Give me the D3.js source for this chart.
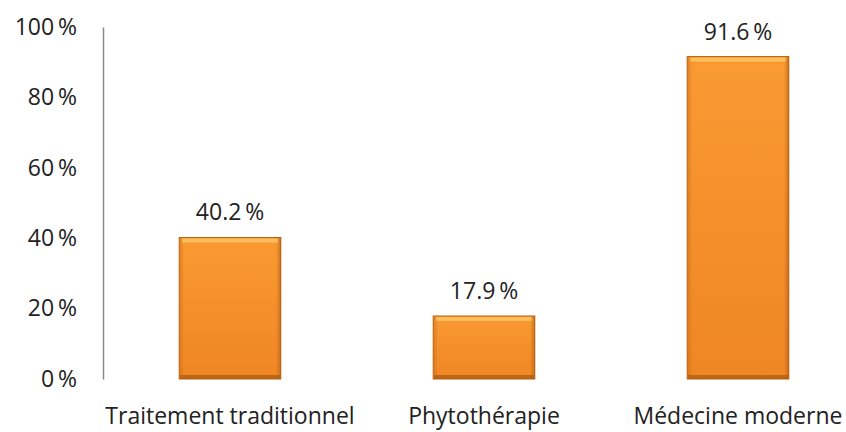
<!DOCTYPE html>
<html><head><meta charset="utf-8">
<script src="https://cdn.jsdelivr.net/npm/d3@7"></script>
<style>body{margin:0;background:#fff}svg{display:block}text{font-family:"Open Sans",sans-serif;fill:#222}</style>
</head><body><svg id="c" width="846" height="432"></svg>
<script>
const categories = ["Traitement traditionnel", "Phytothérapie", "Médecine moderne"];
const values = [40.2, 17.9, 91.6];
const valueLabels = ["40.2\u2009%", "17.9\u2009%", "91.6\u2009%"];
const yTicks = [0, 20, 40, 60, 80, 100];
const yTickLabels = ["0\u2009%", "20\u2009%", "40\u2009%", "60\u2009%", "80\u2009%", "100\u2009%"];

const svg = d3.select("#c");
const x = d3.scaleBand().domain(categories).range([103, 865]).paddingInner(0.6).paddingOuter(0.3);
const y = d3.scaleLinear().domain([0, 100]).range([379, 27]);

const defs = svg.append("defs");
const g1 = defs.append("linearGradient").attr("id","gv").attr("x1",0).attr("y1",0).attr("x2",0).attr("y2",1);
g1.append("stop").attr("offset","0%").attr("stop-color","#fa9a33");
g1.append("stop").attr("offset","100%").attr("stop-color","#ee8624");
const g2 = defs.append("linearGradient").attr("id","gh").attr("x1",0).attr("y1",0).attr("x2",1).attr("y2",0);
g2.append("stop").attr("offset","0%").attr("stop-color","#c96a14").attr("stop-opacity",0.55);
g2.append("stop").attr("offset","5%").attr("stop-color","#c96a14").attr("stop-opacity",0);
g2.append("stop").attr("offset","95%").attr("stop-color","#c96a14").attr("stop-opacity",0);
g2.append("stop").attr("offset","100%").attr("stop-color","#a85510").attr("stop-opacity",0.6);

const yAxis = d3.axisLeft(y).tickValues(yTicks).tickFormat((d,i)=>yTickLabels[i]).tickSize(0).tickPadding(26);
const ya = svg.append("g").attr("transform","translate(103,0)").call(yAxis);
ya.select(".domain").attr("stroke","#8a8a8a").attr("stroke-width",1.5);
ya.selectAll("text").style("font-size","23px").attr("fill","#222").style("font-family","'Open Sans', sans-serif");

const bars = svg.append("g").selectAll("g").data(values).join("g");
bars.append("rect")
  .attr("x",(d,i)=>x(categories[i])).attr("y",d=>y(d))
  .attr("width",x.bandwidth()).attr("height",d=>y(0)-y(d))
  .attr("fill","url(#gv)").attr("stroke","#b56314").attr("stroke-width",1);
bars.append("rect")
  .attr("x",(d,i)=>x(categories[i])).attr("y",d=>y(d))
  .attr("width",x.bandwidth()).attr("height",d=>y(0)-y(d))
  .attr("fill","url(#gh)");
bars.append("rect")
  .attr("x",(d,i)=>x(categories[i])+3).attr("y",d=>y(d)+1)
  .attr("width",x.bandwidth()-6).attr("height",4)
  .attr("fill","#ffc766").attr("opacity",0.8);
bars.append("rect")
  .attr("x",(d,i)=>x(categories[i])+1).attr("y",d=>y(0)-4)
  .attr("width",x.bandwidth()-2).attr("height",4)
  .attr("fill","#a9590f").attr("opacity",0.7);

bars.append("text")
  .attr("x",(d,i)=>x(categories[i])+x.bandwidth()/2).attr("y",d=>y(d)-17)
  .attr("text-anchor","middle").style("font-size","23px")
  .text((d,i)=>valueLabels[i]);

svg.append("g").selectAll("text").data(categories).join("text")
  .attr("x",d=>x(d)+x.bandwidth()/2).attr("y",424)
  .attr("text-anchor","middle").style("font-size","23px")
  .text(d=>d);
</script></body></html>
